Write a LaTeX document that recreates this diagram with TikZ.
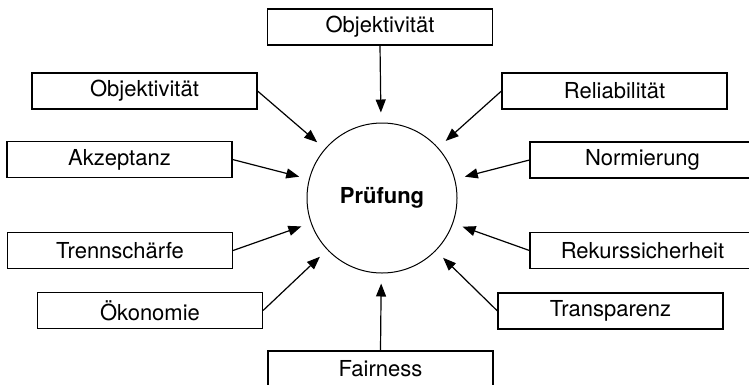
\documentclass[tikz,border=0pt]{standalone}
\usepackage{fontspec}
\setmainfont{TeX Gyre Heros}
\usetikzlibrary{arrows.meta}
\begin{document}
\begin{tikzpicture}[x=1pt,y=-1pt,
  box/.style={draw, line width=1.1pt, minimum width=225pt, minimum height=36pt, inner sep=0pt, font=\fontsize{22}{26}\selectfont},
  hub/.style={draw, circle, line width=1pt, minimum size=150pt, inner sep=0pt, font=\fontsize{22}{26}\selectfont\bfseries},
  arr/.style={line width=1.2pt, -{Triangle[length=13pt,width=10pt]}, shorten >=10pt}]
\useasboundingbox (0,0) rectangle (749,384);
\clip (0,0) rectangle (749,384);
\node[hub] (c) at (382,198) {Prüfung};
\node[box] (t) at (380,27) {Objektivität};
\node[box] (l1) at (144.5,91) {Objektivität};
\node[box] (l2) at (119.5,159.5) {Akzeptanz};
\node[box] (l3) at (120,250.5) {Trennschärfe};
\node[box] (l4) at (150,310.5) {Ökonomie};
\node[box] (b) at (380.5,369) {Fairness};
\node[box] (r1) at (614.5,91) {Reliabilität};
\node[box] (r2) at (642.5,160) {Normierung};
\node[box] (r3) at (642.5,250.5) {Rekurssicherheit};
\node[box] (r4) at (610.5,311) {Transparenz};
\draw[arr] (t.south) -- (c);
\draw[arr] (b.north) -- (c);
\draw[arr] (l1.east) -- (c);
\draw[arr] (l2.east) -- (c);
\draw[arr] (l3.east) -- (c);
\draw[arr] (l4.east) -- (c);
\draw[arr] (r1.west) -- (c);
\draw[arr] (r2.west) -- (c);
\draw[arr] (r3.west) -- (c);
\draw[arr] (r4.west) -- (c);
\end{tikzpicture}
\end{document}
